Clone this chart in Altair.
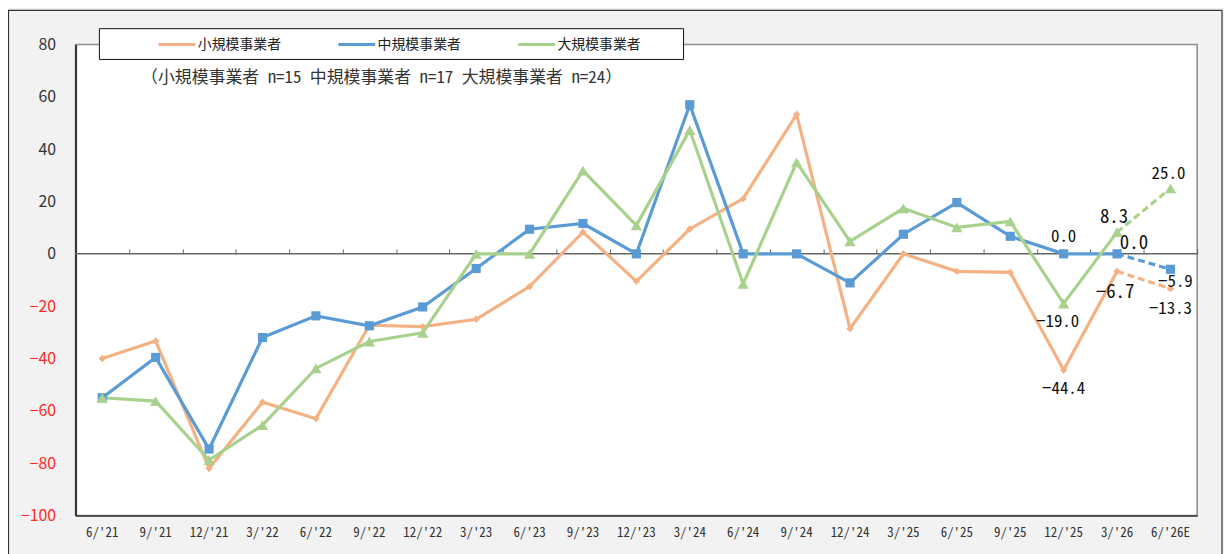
import altair as alt
import pandas as pd

periods = ["6/'21", "9/'21", "12/'21", "3/'22", "6/'22", "9/'22", "12/'22", "3/'23",
           "6/'23", "9/'23", "12/'23", "3/'24", "6/'24", "9/'24", "12/'24", "3/'25",
           "6/'25", "9/'25", "12/'25", "3/'26", "6/'26E"]
series_names = ["小規模事業者", "中規模事業者", "大規模事業者"]
small = [-40.0, -33.3, -82.0, -56.7, -63.0, -27.3, -27.8, -25.0, -12.5, 8.3, -10.5,
         9.5, 21.1, 53.3, -28.6, 0.0, -6.7, -7.1, -44.4, -6.7, -13.3]
mid = [-55.0, -39.6, -74.6, -32.0, -23.7, -27.5, -20.3, -5.6, 9.4, 11.6, 0.0,
       57.0, 0.0, 0.0, -11.1, 7.5, 19.6, 6.7, 0.0, 0.0, -5.9]
large = [-55.0, -56.3, -78.8, -65.5, -43.8, -33.5, -30.2, 0.0, 0.0, 31.8, 10.9,
         47.3, -11.5, 35.0, 4.8, 17.4, 10.1, 12.4, -19.0, 8.3, 25.0]
colors = ["#F4B183", "#5B9BD5", "#A9D18E"]
shapes = ["diamond", "square", "triangle-up"]
marker_sizes = [55, 85, 130]
subtitle = "（小規模事業者 n=15 中規模事業者 n=17 大規模事業者 n=24）"
y_ticks = list(range(-100, 81, 20))

rows = []
for name, vals in zip(series_names, [small, mid, large]):
    for i, (p, v) in enumerate(zip(periods, vals)):
        rows.append({"series": name, "period": p, "idx": i, "value": v})
df = pd.DataFrame(rows)

FONT = "Noto Sans CJK JP"
MONO = "Noto Sans Mono CJK JP, Noto Sans CJK JP"
W, H = 1129, 474
LAST_SOLID = len(periods) - 2

xscale = alt.Scale(type="band", paddingInner=0, paddingOuter=0)
yscale = alt.Scale(domain=[-100, 80], nice=False)

y_axis = alt.Axis(values=y_ticks, title=None, labelFont=FONT, labelFontSize=16,
                  labelColor={"condition": {"test": "datum.value < 0", "value": "#ff2a2a"},
                              "value": "#333333"},
                  labelPadding=20, ticks=False, domainColor="#333333", domainWidth=2,
                  gridColor="#9a9a9a", gridDash=[2, 2], gridWidth=1)
y_enc = alt.Y("value:Q", scale=yscale, axis=y_axis)

color_scale = alt.Scale(domain=series_names, range=colors)
color_leg = alt.Color("series:N", scale=color_scale,
                      legend=alt.Legend(orient="none", legendX=82, legendY=-20,
                                        direction="horizontal", title=None,
                                        symbolType="stroke", symbolSize=1369,
                                        symbolStrokeWidth=3, labelFont=FONT,
                                        labelFontSize=14, labelColor="#222222",
                                        columnPadding=51, labelOffset=1, padding=0))
color_noleg = alt.Color("series:N", scale=color_scale, legend=None)

base = alt.Chart(df)

bottom_axis = alt.Axis(title=None, labelAngle=0, labelFont=MONO, labelFontSize=13,
                       labelColor="#333333", labelPadding=11, ticks=False,
                       domainColor="#333333", domainWidth=1.5, grid=False)
zero_ticks_axis = alt.Axis(orient="top", title=None, labels=False, domain=False,
                           ticks=True, tickBand="extent", tickSize=5,
                           tickColor="#666666", tickWidth=1, grid=False,
                           offset=-(H * 80 / 180))

solid = base.mark_line(strokeWidth=3.2).encode(
    x=alt.X("period:N", sort=periods, scale=xscale, axis=bottom_axis),
    y=y_enc, color=color_leg, detail="series:N",
).transform_filter(f"datum.idx <= {LAST_SOLID}")

dashed = base.mark_line(strokeWidth=3.2, strokeDash=[7, 4]).encode(
    x=alt.X("period:N", sort=periods, scale=xscale, axis=zero_ticks_axis),
    y=y_enc, color=color_noleg, detail="series:N",
).transform_filter(f"datum.idx >= {LAST_SOLID}")

point_layers = []
for s, shp, sz in zip(series_names, shapes, marker_sizes):
    point_layers.append(
        base.mark_point(filled=True, opacity=1, shape=shp, size=sz).encode(
            x=alt.X("period:N", sort=periods, scale=xscale, axis=None),
            y=y_enc, color=color_noleg,
        ).transform_filter(f"datum.series == '{s}'")
    )

zero = alt.Chart(pd.DataFrame({"z": [0]})).mark_rule(color="#666666", strokeWidth=1.5).encode(
    y=alt.Y(datum=0, scale=yscale, axis=y_axis))

frame = alt.Chart(pd.DataFrame({"a": [0]})).mark_rect(
    fill="#f2f2f2", fillOpacity=0, stroke="#333333", strokeWidth=1.2).encode(
    x=alt.value(-67.5), x2=alt.value(1154), y=alt.value(-34.5), y2=alt.value(620))

box = alt.Chart(pd.DataFrame({"a": [0]})).mark_rect(fill="white", stroke="#111111", strokeWidth=1).encode(
    x=alt.value(24), x2=alt.value(612), y=alt.value(-16), y2=alt.value(15))

sub = alt.Chart(pd.DataFrame({"t": [subtitle]})).mark_text(
    font=MONO, fontSize=17, align="left", baseline="middle", color="#333333").encode(
    x=alt.value(66), y=alt.value(34), text="t:N")

label_specs = [
    ("中規模事業者", 18, 0, -17, 17),
    ("大規模事業者", 18, -6, 19, 17),
    ("小規模事業者", 18, 0, 19, 17),
    ("大規模事業者", 19, -3, -15, 19),
    ("中規模事業者", 19, 17, -11, 19),
    ("小規模事業者", 19, -2, 21, 19),
    ("大規模事業者", 20, -2, -15, 17),
    ("中規模事業者", 20, 5, 13, 17),
    ("小規模事業者", 20, 0, 21, 17),
]
labels = []
for s, i, dx, dy, fs in label_specs:
    labels.append(
        base.mark_text(font=MONO, fontSize=fs, dx=dx, dy=dy, color="#111111",
                       align="center", baseline="middle").encode(
            x=alt.X("period:N", sort=periods, scale=xscale, axis=None),
            y=y_enc,
            text=alt.Text("value:Q", format=".1f"),
        ).transform_filter(f"datum.series == '{s}' && datum.idx == {i}")
    )

chart = alt.layer(frame, box, sub, zero, solid, dashed, *point_layers, *labels).resolve_axis(
    x="independent"
).properties(
    width=W, height=H,
    padding={"left": 68, "top": 35, "right": 27, "bottom": 37},
    autosize=alt.AutoSizeParams(type="none"),
).configure(background="#f2f2f2").configure_view(fill="white", stroke="#8c8c8c", strokeWidth=1.5)

chart.save("out.html", embed_options={"renderer": "svg", "actions": False})
